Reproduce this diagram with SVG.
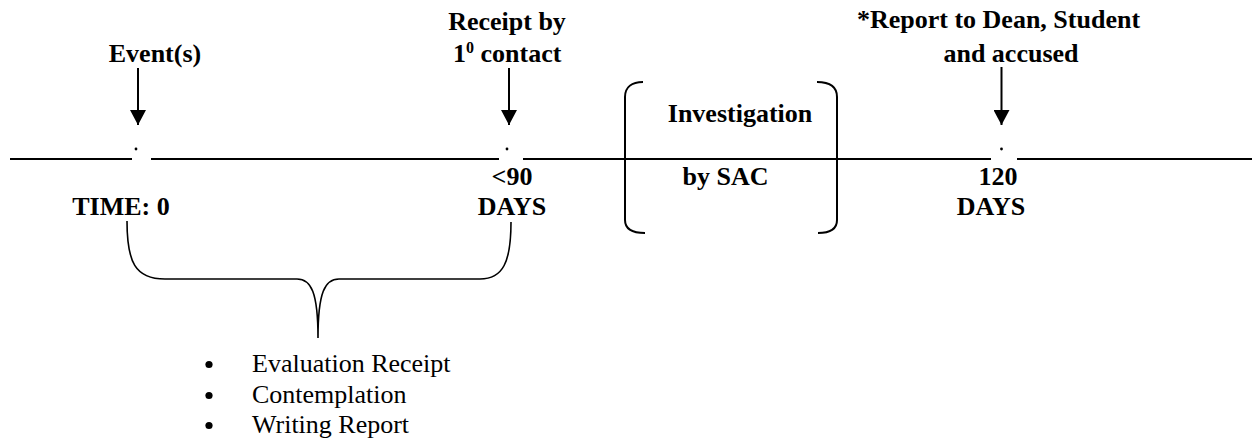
<svg xmlns="http://www.w3.org/2000/svg" width="1254" height="443" viewBox="0 0 1254 443">
<style>
.b{font-family:"Liberation Serif","Times New Roman",serif;font-weight:bold;font-size:26px;fill:#000}
.r{font-family:"Liberation Serif","Times New Roman",serif;font-size:26px;fill:#000}
.ln{stroke:#000;stroke-width:2;fill:none}
.br{stroke:#000;stroke-width:2;fill:none}
.brace{stroke:#000;stroke-width:1.6;fill:none}
.arr{stroke:#000;stroke-width:2;fill:none}
</style>
<defs>
<marker id="ah" markerWidth="15" markerHeight="16" refX="15" refY="8" orient="auto" markerUnits="userSpaceOnUse" viewBox="0 0 15 16">
<path d="M0,0 L15,8 L0,16 Z" fill="#000"/>
</marker>
</defs>
<g id="timeline">
<line class="ln" x1="10" y1="159" x2="132" y2="159"/>
<line class="ln" x1="151" y1="159" x2="499" y2="159"/>
<line class="ln" x1="523" y1="159" x2="991" y2="159"/>
<line class="ln" x1="1017" y1="159" x2="1252" y2="159"/>
<circle cx="136" cy="149" r="1.4" fill="#000"/>
<circle cx="507" cy="149" r="1.4" fill="#000"/>
<circle cx="1001.5" cy="149" r="1.4" fill="#000"/>
</g>
<g id="connectors">
<path class="arr" d="M138,68 V125" marker-end="url(#ah)"/>
<path class="arr" d="M509,68 V125" marker-end="url(#ah)"/>
<path class="arr" d="M1001.5,67 V125" marker-end="url(#ah)"/>
<path class="brace" d="M127,221 C127,262 135,279 165,279 L297,279 C311,279 318,292 318,338 C318,292 325,279 339,279 L480,279 C503,279 511,262 511,222"/>
</g>
<g id="event">
<text class="b" x="155" y="62" text-anchor="middle">Event(s)</text>
<text class="b" x="121" y="215" text-anchor="middle">TIME: 0</text>
</g>
<g id="receipt">
<text class="b" x="507" y="30" text-anchor="middle">Receipt by</text>
<text class="b" x="453" y="62">1<tspan font-size="16" dy="-9">0</tspan><tspan dy="9"> contact</tspan></text>
<text class="b" x="512" y="185" text-anchor="middle">&lt;90</text>
<text class="b" x="512" y="215" text-anchor="middle">DAYS</text>
</g>
<g id="investigation">
<path class="br" d="M643,82 C632,82 625,87 625,97 L625,220 C625,229 632,233 645,233"/>
<path class="br" d="M817,82 C830,82 837,87 837,97 L837,220 C837,229 830,233 818,233"/>
<text class="b" x="740" y="122" text-anchor="middle">Investigation</text>
<text class="b" x="725.5" y="185" text-anchor="middle">by SAC</text>
</g>
<g id="report">
<text class="b" x="998.5" y="28" text-anchor="middle">*Report to Dean, Student</text>
<text class="b" x="1011" y="62" text-anchor="middle">and accused</text>
<text class="b" x="998" y="185" text-anchor="middle">120</text>
<text class="b" x="991" y="215" text-anchor="middle">DAYS</text>
</g>
<g id="tasks">
<circle cx="209" cy="364.5" r="3.6" fill="#000"/>
<circle cx="209" cy="395.5" r="3.6" fill="#000"/>
<circle cx="209" cy="425.5" r="3.6" fill="#000"/>
<text class="r" x="252" y="372">Evaluation Receipt</text>
<text class="r" x="252" y="403">Contemplation</text>
<text class="r" x="252" y="433">Writing Report</text>
</g>
</svg>
